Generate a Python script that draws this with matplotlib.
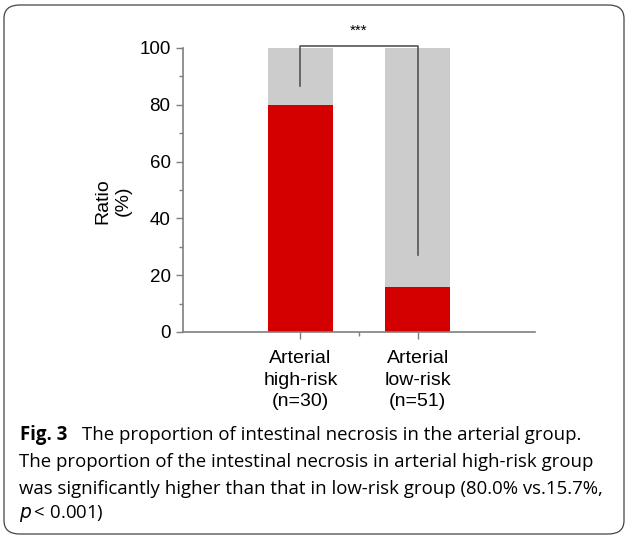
import matplotlib.pyplot as plt
from matplotlib.patches import FancyBboxPatch
from matplotlib.ticker import MultipleLocator

groups = ["Arterial\nhigh-risk\n(n=30)", "Arterial\nlow-risk\n(n=51)"]
necrosis = [80.0, 15.7]
total = [100, 100]
bracket_ends = [86.5, 27.0]
signif = "***"

caption_head = "The proportion of intestinal necrosis in the arterial group."
caption_lines = [
    "The proportion of the intestinal necrosis in arterial high-risk group",
    "was significantly higher than that in low-risk group (80.0% vs.15.7%,",
]

RED = "#d40000"
GREY = "#cccccc"
AXIS = "#7f7f7f"
W, H = 627, 539
CAP_FONT = dict(fontsize=13.4, family="Open Sans", va="center")


def main():
    fig = plt.figure(figsize=(W / 100, H / 100), dpi=100)

    # rounded frame around figure + caption
    frame = FancyBboxPatch((4 / W, 5 / H), 620 / W, 529 / H,
                           boxstyle="round,pad=0,rounding_size=0.025",
                           transform=fig.transFigure, fill=False,
                           edgecolor="#444444", linewidth=0.9)
    fig.patches.append(frame)

    ax = fig.add_axes([183 / W, 1 - 332 / H, 352 / W, 284 / H])
    x = [1, 2]
    rest = [t - n for t, n in zip(total, necrosis)]
    ax.bar(x, necrosis, width=0.55, color=RED, zorder=2)
    ax.bar(x, rest, width=0.55, bottom=necrosis, color=GREY, zorder=2)

    ax.set_xlim(0, 3)
    ax.set_ylim(0, 100)
    ax.set_xticks(x)
    ax.set_xticklabels(groups, fontsize=14, family="Liberation Sans",
                       linespacing=1.35)
    ax.set_xticks([1.5], minor=True)
    ax.yaxis.set_major_locator(MultipleLocator(20))
    ax.yaxis.set_minor_locator(MultipleLocator(10))
    ax.tick_params(axis="both", which="major", color=AXIS, length=5,
                   width=1, labelsize=13.5, pad=4)
    ax.tick_params(axis="both", which="minor", color=AXIS, length=3, width=1)
    ax.tick_params(axis="x", which="major", labelsize=14, pad=8)
    for lab in ax.get_yticklabels():
        lab.set_family("Liberation Sans")
    for side in ["top", "right"]:
        ax.spines[side].set_visible(False)
    for side in ["left", "bottom"]:
        ax.spines[side].set_color(AXIS)
        ax.spines[side].set_linewidth(1.2)

    # two-line y label placed by hand
    fig.text(113 / W, 1 - 201 / H, "Ratio\n(%)", rotation=90, fontsize=14,
             family="Liberation Sans", linespacing=1.2,
             ha="center", va="center", multialignment="center")

    # significance bracket
    ax.plot([x[0], x[0], x[1], x[1]],
            [bracket_ends[0], 100.7, 100.7, bracket_ends[1]],
            color="#555555", linewidth=1.2, clip_on=False, zorder=3)
    ax.text(1.5, 103.5, signif, ha="center", va="bottom", fontsize=11,
            family="Liberation Sans")

    # caption below the chart
    fig.text(20 / W, 1 - 435 / H, "Fig. 3", fontweight="bold", **CAP_FONT)
    fig.text(82 / W, 1 - 435 / H, caption_head, **CAP_FONT)
    for i, line in enumerate(caption_lines):
        fig.text(19 / W, 1 - (462 + 26.5 * i) / H, line, **CAP_FONT)
    fig.text(19 / W, 1 - 514 / H, r"$p$" + "\u2009< 0.001)", **CAP_FONT)

    fig.savefig("out.png", dpi=100)


if __name__ == "__main__":
    main()
